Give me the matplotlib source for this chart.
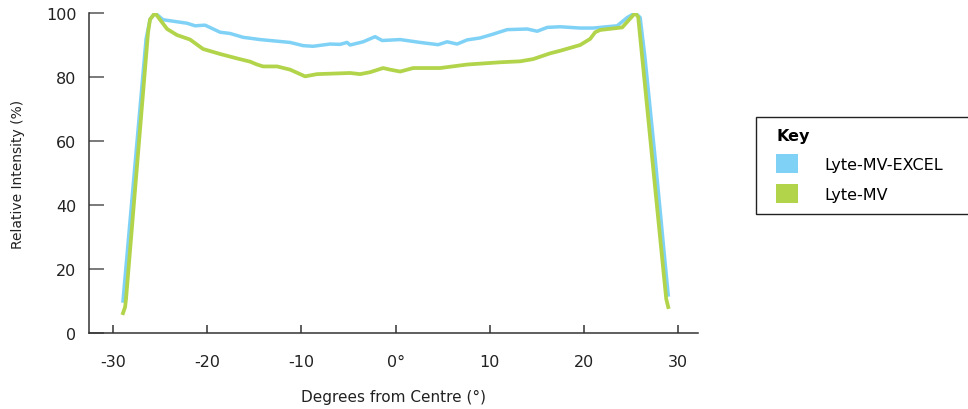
import matplotlib
matplotlib.use("Agg")
from matplotlib import pyplot as plt
from matplotlib.patches import Patch, Rectangle

plt.rcParams['font.family'] = ['DejaVu Sans']

# Degrees from centre / relative intensity
excel_x = [-28.94, -28.83, -26.49, -26.07, -25.54, -24.69, -22.14, -21.29, -20.23,
           -18.64, -17.57, -16.19, -14.39, -13.33, -11.20, -9.82, -8.76, -6.96, -5.90,
           -5.15, -4.83, -3.45, -2.18, -1.43, 0.48, 2.60, 4.51, 5.47, 6.53,
           7.60, 8.97, 10.35, 11.84, 13.97, 15.03, 16.09, 17.47, 19.59, 20.97,
           23.52, 24.59, 25.43, 25.96, 26.49, 27.56, 28.62, 28.94]
excel_y = [10.0, 13.8, 91.9, 98.0, 100.0, 97.9, 96.8, 96.0, 96.2,
           94.0, 93.6, 92.4, 91.7, 91.4, 90.8, 89.8, 89.6, 90.3, 90.2,
           90.8, 90.0, 91.0, 92.6, 91.4, 91.7, 90.8, 90.1, 91.0, 90.3,
           91.6, 92.2, 93.4, 94.8, 95.0, 94.3, 95.5, 95.7, 95.3, 95.3,
           96.0, 98.6, 100.0, 98.6, 85.6, 54.4, 21.6, 11.9]

mv_x = [-28.94, -28.72, -28.62, -26.28, -26.07, -25.54, -24.26, -23.20,
        -21.82, -20.44, -18.64, -16.83, -15.45, -14.71, -14.07, -12.58, -11.20, -9.61,
        -8.34, -4.83, -3.77, -2.71, -1.33, -0.58, 0.48, 1.86, 4.73, 7.60,
        11.10, 13.22, 14.60, 16.41, 17.47, 19.59, 20.65, 21.19, 21.72, 24.06,
        25.43, 25.75, 26.28, 27.34, 28.41, 28.73, 28.94]
mv_y = [6.2, 8.1, 10.6, 94.0, 98.0, 100.0, 95.0, 93.1,
        91.7, 88.75, 87.2, 85.8, 84.8, 83.9, 83.3, 83.3, 82.3, 80.2,
        80.9, 81.25, 80.9, 81.5, 82.8, 82.3, 81.7, 82.8, 82.8, 83.9,
        84.6, 84.9, 85.6, 87.4, 88.2, 90.0, 91.9, 94.0, 94.7, 95.5,
        100.0, 98.75, 83.1, 51.6, 20.0, 10.6, 8.1]

series_names = ["Lyte-MV-EXCEL", "Lyte-MV"]
series_colors = ["#7fd2f6", "#b1d44a"]

x_ticks = [-30, -20, -10, 0, 10, 20, 30]
x_tick_labels = ["-30", "-20", "-10", "0°", "10", "20", "30"]
y_ticks = [0, 20, 40, 60, 80, 100]

fig = plt.figure(figsize=(9.68, 4.10), dpi=100)
ax = fig.add_axes([89 / 968, 76 / 410, 609 / 968, 320 / 410])

ax.plot(excel_x, excel_y, color=series_colors[0], lw=2.5, solid_joinstyle="round")
ax.plot(mv_x, mv_y, color=series_colors[1], lw=2.7, solid_joinstyle="round")

ax.set_xlim(-32.55, 32.1)
ax.set_ylim(0, 100)
ax.set_xticks(x_ticks)
ax.set_xticklabels(x_tick_labels)
ax.set_yticks(y_ticks)

for side in ["top", "right"]:
    ax.spines[side].set_visible(False)
for side in ["left", "bottom"]:
    ax.spines[side].set_color("#333333")
    ax.spines[side].set_linewidth(1.1)

ax.tick_params(axis="y", direction="in", length=11, width=1.1, color="#555555",
               labelsize=11.5, pad=9, labelcolor="#222222")
ax.tick_params(axis="x", direction="in", length=6, width=1.1, color="#333333",
               labelsize=11.5, pad=15, labelcolor="#222222")

ax.set_ylabel("Relative Intensity (%)", fontsize=10, color="#222222")
ax.yaxis.set_label_coords(-0.105, 0.5)
ax.set_xlabel("Degrees from Centre (°)", fontsize=11, color="#222222")
ax.xaxis.set_label_coords(0.5, -0.175)

# legend frame drawn by hand so it can run off the right edge like the original
fig.patches.append(Rectangle((756 / 968, 195 / 410), 220 / 968, 97 / 410,
                             transform=fig.transFigure, facecolor="white",
                             edgecolor="#222222", linewidth=1.0))

handles = [Patch(facecolor=c, edgecolor="none") for c in series_colors]
leg = fig.legend(handles, series_names, title="Key", loc="upper left",
                 bbox_to_anchor=(776 / 968, 281 / 410), frameon=False,
                 fontsize=11.5, title_fontsize=11.5, alignment="left",
                 handlelength=1.4, handleheight=1.45, handletextpad=1.65,
                 labelspacing=0.7, borderpad=0, borderaxespad=0)
leg.get_title().set_fontweight("bold")

fig.savefig("out.png", dpi=100)
